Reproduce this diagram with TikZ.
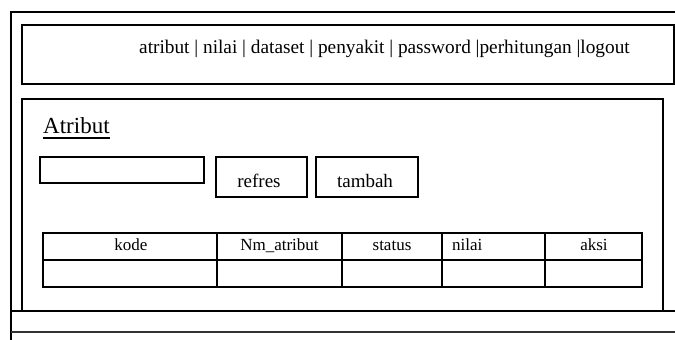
\documentclass[tikz,border=0pt]{standalone}
\usepackage{fontspec}
\setmainfont{Liberation Serif}
\begin{document}
\begin{tikzpicture}[x=1pt,y=-1pt,
  frame/.style={draw=black,line width=1.5pt},
  box/.style={draw=black,line width=1.6pt,anchor=north west,inner sep=0pt,outer sep=0pt},
  lbl/.style={anchor=base,inner sep=0pt,font=\fontsize{19}{19}\selectfont},
  hdr/.style={anchor=base,inner sep=0pt,font=\fontsize{17}{17}\selectfont},
  tline/.style={draw=black,line width=1.6pt}]
\useasboundingbox (0,0) rectangle (675,340);
% outer frame
\coordinate (otr) at (690,12);
\coordinate (otl) at (11,12);
\coordinate (obl) at (11,350);
\draw[frame] (otr) -- (otl) -- (obl);
% nav bar
\node[box,minimum width=652pt,minimum height=59pt] (nav) at (22,25) {};
\node[lbl,anchor=base west,font=\fontsize{19.3}{19.3}\selectfont] (navtext) at (139,53) {atribut | nilai | dataset | penyakit | password |perhitungan |logout};
% content box
\node[box,minimum width=641pt,minimum height=212pt] (content) at (22,99) {};
% footer lines
\coordinate (f1l) at (11,311);
\coordinate (f1r) at (690,311);
\coordinate (f2l) at (11,332);
\coordinate (f2r) at (690,332);
\draw[frame] (f1l) -- (f1r);
\draw[frame,draw=black!80] (f2l) -- (f2r);
% title
\node[lbl,anchor=base west,font=\fontsize{23}{23}\selectfont] (title) at (43,133) {Atribut};
\draw[line width=1.8pt] (title.base west) ++(0,5) coordinate (ul1) -- (title.base east |- ul1);
% search box and buttons
\node[box,minimum width=164pt,minimum height=26pt] (search) at (40,157) {};
\node[box,minimum width=91pt,minimum height=40pt] (refres) at (216,157) {};
\node[lbl] (refrest) at (259,187) {refres};
\node[box,minimum width=102pt,minimum height=40pt] (tambah) at (316,157) {};
\node[lbl] (tambaht) at (365,187) {tambah};
% table
\node[box,minimum width=599pt,minimum height=54pt] (table) at (43,233) {};
\coordinate (rowl) at (43,260);
\coordinate (rowr) at (642,260);
\draw[tline] (rowl) -- (rowr);
\foreach \cx/\nm in {217/c1,342/c2,442/c3,545/c4}{
  \coordinate (\nm t) at (\cx,233);
  \coordinate (\nm b) at (\cx,287);
  \draw[tline] (\nm t) -- (\nm b);
}
\node[hdr] (h1) at (131,250) {kode};
\node[hdr] (h2) at (279.5,250) {Nm\_atribut};
\node[hdr] (h3) at (392,250) {status};
\node[hdr,anchor=base west] (h4) at (452,250) {nilai};
\node[hdr] (h5) at (594,250) {aksi};
\end{tikzpicture}
\end{document}
